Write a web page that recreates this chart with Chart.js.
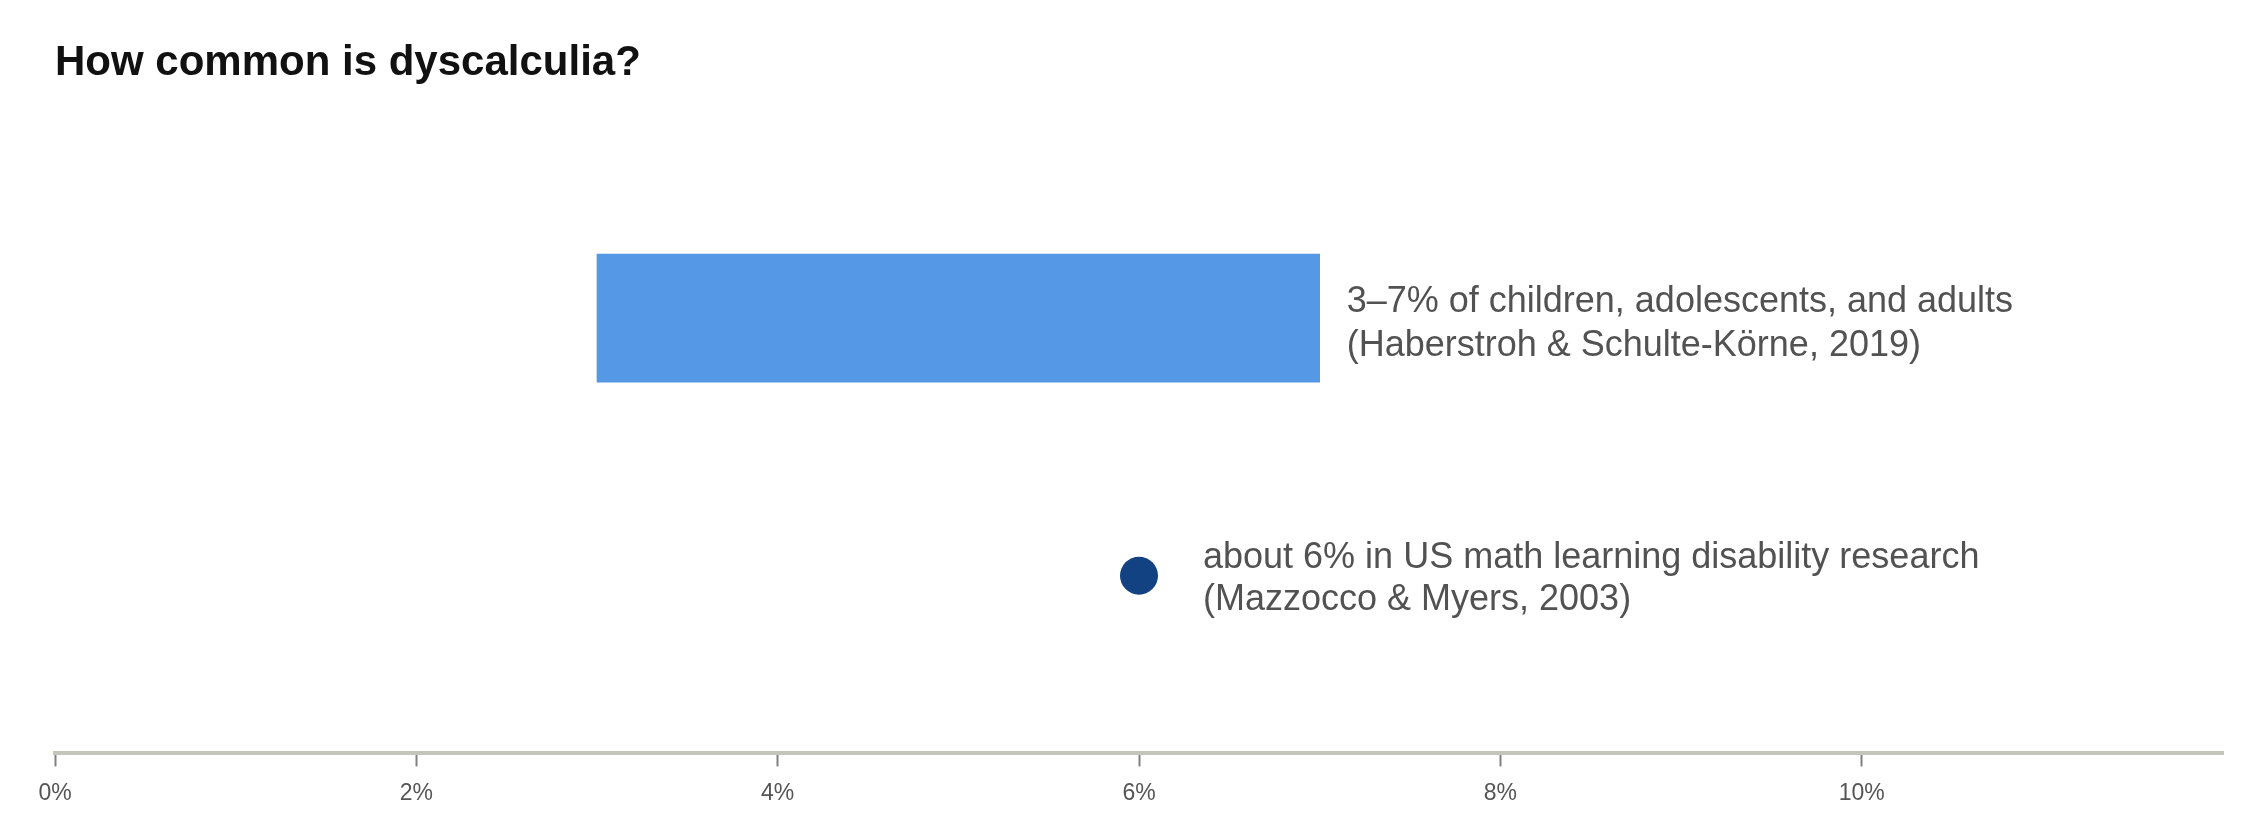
<!DOCTYPE html>
<html>
<head>
<meta charset="utf-8">
<title>How common is dyscalculia?</title>
<script src="https://cdn.jsdelivr.net/npm/chart.js@4"></script>
<style>
  html, body { margin: 0; padding: 0; background: #fff; }
  #chart { display: block; }
</style>
</head>
<body>
<canvas id="chart" width="2256" height="840"></canvas>
<script>
// data
const rowLabels = ['Haberstroh & Schulte-Körne, 2019', 'Mazzocco & Myers, 2003'];
const rangeValues = [[3, 7]];          // row 1: range of prevalence, in %
const pointValues = [6];               // row 2: single estimate, in %
const tickValues = [0, 2, 4, 6, 8, 10];
const noteLines = [
    ['3–7% of children, adolescents, and adults', '(Haberstroh & Schulte-Körne, 2019)'],
    ['about 6% in US math learning disability research', '(Mazzocco & Myers, 2003)']
];

const FONT = '"Liberation Sans", Arial, Helvetica, sans-serif';

// text next to each mark, placed from the mark's own pixel position
const notesPlugin = {
    id: 'notes',
    afterDatasetsDraw(chart) {
        const ctx = chart.ctx;
        ctx.save();
        ctx.font = '36px ' + FONT;
        ctx.fillStyle = '#525252';
        ctx.textAlign = 'left';
        ctx.textBaseline = 'alphabetic';

        const bar = chart.getDatasetMeta(0).data[0];
        noteLines[0].forEach((line, i) => {
            ctx.fillText(line, bar.x + 27, bar.y - 6 + i * 44);
        });

        const pt = chart.getDatasetMeta(1).data[0];
        noteLines[1].forEach((line, i) => {
            ctx.fillText(line, pt.x + 64, pt.y - 8 + i * 42);
        });
        ctx.restore();
    }
};

window.addEventListener('DOMContentLoaded', () => {
    const ctx = document.getElementById('chart').getContext('2d');
    window.myChart = new Chart(ctx, {
        data: {
            datasets: [{
                type: 'bar',
                label: rowLabels[0],
                indexAxis: 'y',
                data: rangeValues.map((r, i) => ({ x: r, y: i + 1 })),
                backgroundColor: '#5598e6',
                borderWidth: 0,
                barThickness: 128
            }, {
                type: 'scatter',
                label: rowLabels[1],
                data: pointValues.map((v, i) => ({ x: v, y: rangeValues.length + i + 1 })),
                backgroundColor: '#134283',
                borderWidth: 0,
                pointRadius: 19,
                pointHoverRadius: 19
            }]
        },
        options: {
            responsive: false,
            devicePixelRatio: 1,
            animation: false,
            events: [],
            layout: {
                padding: { left: 55, right: 33, top: 0, bottom: 20 }
            },
            plugins: {
                legend: { display: false },
                tooltip: { enabled: false },
                title: {
                    display: true,
                    text: 'How common is dyscalculia?',
                    align: 'start',
                    color: '#111',
                    font: { family: FONT, size: 42, weight: 'bold', lineHeight: 1.2 },
                    padding: { top: 38, bottom: 52 }
                }
            },
            scales: {
                x: {
                    type: 'linear',
                    min: 0,
                    max: 12,
                    afterBuildTicks(scale) {
                        scale.ticks = tickValues.map(v => ({ value: v }));
                    },
                    ticks: {
                        callback: v => v + '%',
                        color: '#555',
                        padding: 13,
                        font: { family: FONT, size: 23 }
                    },
                    grid: {
                        drawOnChartArea: false,
                        drawTicks: true,
                        tickLength: 13,
                        tickWidth: 2,
                        tickColor: '#808080'
                    },
                    border: { display: true, color: '#c5c6bb', width: 4 }
                },
                y: {
                    type: 'linear',
                    display: false,
                    offset: false,
                    reverse: true,
                    min: 0.31,
                    max: 2.69
                }
            }
        },
        plugins: [notesPlugin]
    });
});
</script>
</body>
</html>
